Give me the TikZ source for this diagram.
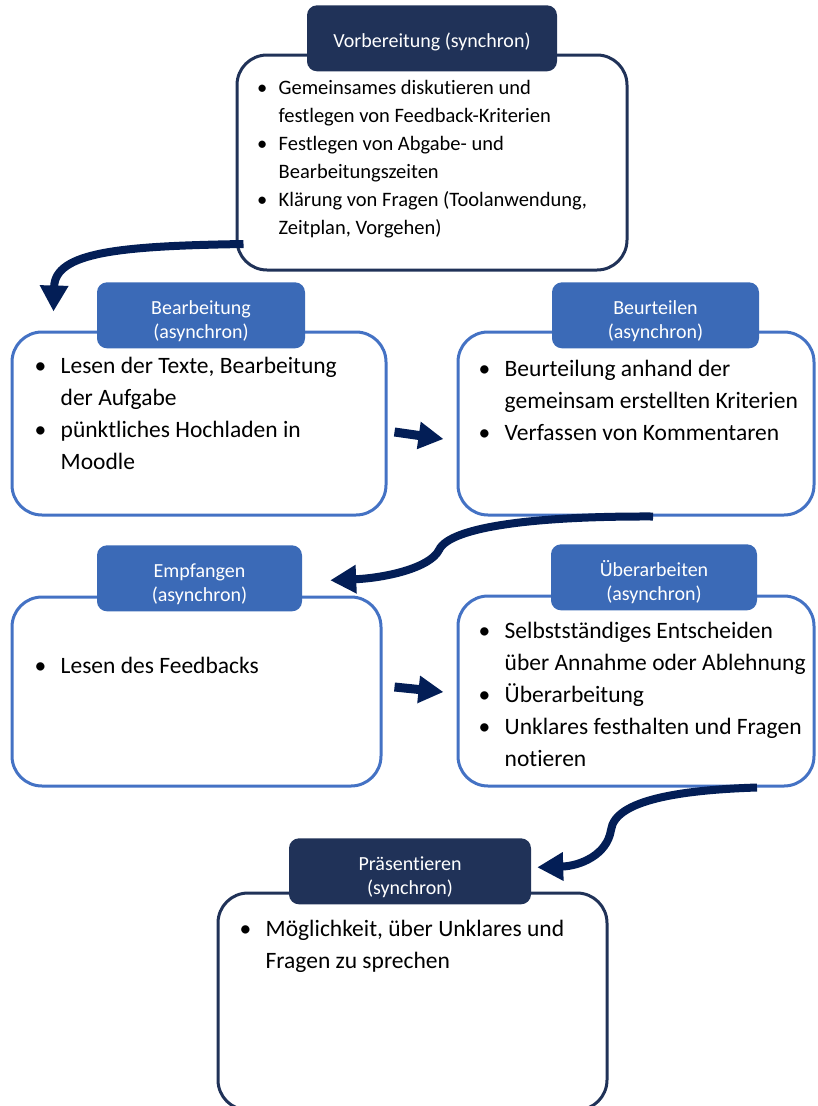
\documentclass[tikz,border=0pt]{standalone}
\usepackage{fontspec}
\setmainfont{Carlito}[Ligatures=CommonOff]
\usetikzlibrary{positioning,arrows.meta}
\definecolor{vnavy}{RGB}{32,50,88}
\definecolor{vblue}{RGB}{68,114,196}
\definecolor{vhead}{RGB}{59,106,183}
\definecolor{varrow}{RGB}{3,30,86}
\tikzset{
	box/.style={draw, line width=3pt, rounded corners=30pt, fill=white},
	navybox/.style={box, draw=vnavy},
	bluebox/.style={box, draw=vblue},
	head/.style={rounded corners=10pt, minimum height=66pt, text=white, align=center, inner sep=0pt, font=\fontsize{20}{24}\selectfont},
	navyhead/.style={head, fill=vnavy},
	bluehead/.style={head, fill=vhead},
	items/.style={inner sep=0pt, align=left, font=\fontsize{23.5}{32}\selectfont},
	flow/.style={draw=varrow, line width=8pt, -{Triangle[length=26pt,width=27pt]}},
	push/.style={draw=varrow, line width=9pt, -{Triangle[length=25pt,width=26pt]}},
}
\newcommand\vpunkt[1]{\makebox[#1][l]{\textbullet}}
\newcommand\veinzug[1]{\hspace*{#1}}
\newcommand\vstrut[1]{\rule{0pt}{#1}}

\begin{document}
\begin{tikzpicture}[x=1pt,y=-1pt]
	\useasboundingbox (0,0) rectangle (817,1106);
	\node[navybox, minimum width=390pt, minimum height=215pt] (vorb) at (432,162.5) {};
	\node[bluebox, minimum width=374pt, minimum height=183pt] (bearb) at (199,423.5) {};
	\node[bluebox, minimum width=356pt, minimum height=183pt] (beurt) at (636,423.5) {};
	\node[bluebox, minimum width=369pt, minimum height=189pt] (empf) at (196.5,691.5) {};
	\node[bluebox, minimum width=356pt, minimum height=190pt] (ueber) at (636,691) {};
	\node[navybox, minimum width=389pt, minimum height=217pt] (praes) at (412.5,1001.5) {};
	\node[navyhead, minimum width=250pt, above=-18pt of vorb.north] (vorb-h) {\vstrut{21pt}Vorbereitung (synchron)};
	\node[bluehead, minimum width=208pt, above=-18pt of bearb.north, xshift=2pt] (bearb-h) {\vstrut{26pt}Bearbeitung\\(asynchron)};
	\node[bluehead, minimum width=207pt, above=-18pt of beurt.north, xshift=19.5pt] (beurt-h) {\vstrut{26pt}Beurteilen\\(asynchron)};
	\node[bluehead, minimum width=205pt, above=-16pt of empf.north, xshift=3pt] (empf-h) {\vstrut{26pt}Empfangen\\(asynchron)};
	\node[bluehead, minimum width=206pt, above=-16pt of ueber.north, xshift=18pt] (ueber-h) {\vstrut{26pt}Überarbeiten\\(asynchron)};
	\node[navyhead, minimum width=242pt, above=-13pt of praes.north, xshift=-2.5pt] (praes-h) {\vstrut{26pt}Präsentieren\\(synchron)};
	\node[items, font=\fontsize{20.5}{28}\selectfont, below right=26.5pt and 21.5pt of vorb.north west] (vorb-t) {\vpunkt{21.5pt}Gemeinsames diskutieren und\\\veinzug{21.5pt}festlegen von Feedback-Kriterien\\\vpunkt{21.5pt}Festlegen von Abgabe- und\\\veinzug{21.5pt}Bearbeitungszeiten\\\vpunkt{21.5pt}Klärung von Fragen (Toolanwendung,\\\veinzug{21.5pt}Zeitplan, Vorgehen)};
	\node[items, below right=26.5pt and 24pt of bearb.north west] (bearb-t) {\vpunkt{26pt}Lesen der Texte, Bearbeitung\\\veinzug{26pt}der Aufgabe\\\vpunkt{26pt}pünktliches Hochladen in\\\veinzug{26pt}Moodle};
	\node[items, below right=29.5pt and 22pt of beurt.north west] (beurt-t) {\vpunkt{26pt}Beurteilung anhand der\\\veinzug{26pt}gemeinsam erstellten Kriterien\\\vpunkt{26pt}Verfassen von Kommentaren};
	\node[items, below right=61.5pt and 24pt of empf.north west] (empf-t) {\vpunkt{26pt}Lesen des Feedbacks};
	\node[items, below right=27.5pt and 22pt of ueber.north west] (ueber-t) {\vpunkt{26pt}Selbstständiges Entscheiden\\\veinzug{26pt}über Annahme oder Ablehnung\\\vpunkt{26pt}Überarbeitung\\\vpunkt{26pt}Unklares festhalten und Fragen\\\veinzug{26pt}notieren};
	\node[items, below right=28.5pt and 23pt of praes.north west] (praes-t) {\vpunkt{26pt}Möglichkeit, über Unklares und\\\veinzug{26pt}Fragen zu sprechen};
	\coordinate (a1s) at ([xshift=8pt,yshift=-81.5pt]vorb.west);
	\coordinate (a1e) at ([xshift=43pt,yshift=19pt]bearb.north west);
	\coordinate (a2s) at ([xshift=17pt]beurt.south);
	\coordinate (a2e) at ([xshift=28pt,yshift=-2pt]empf-h.east);
	\coordinate (a3s) at ([xshift=121pt]ueber.south);
	\coordinate (a3e) at ([xshift=6pt,yshift=4pt]praes-h.east);
	\draw[flow] (a1s) .. controls (120,246) and (55,252) .. (a1e);
	\draw[flow] (a2s) .. controls (540,516) and (450,526) .. (439,550) .. controls (430,568) and (385,578) .. (a2e);
	\draw[flow] (a3s) .. controls (680,790) and (615,800) .. (611,830) .. controls (607,855) and (580,866) .. (a3e);
	\draw[push] ([xshift=7pt,yshift=-8.5pt]bearb.east) -- ([xshift=-13pt,yshift=-15.5pt]beurt.west);
	\draw[push] ([xshift=12pt,yshift=4.5pt]empf.east) -- ([xshift=-13pt,yshift=-1pt]ueber.west);
\end{tikzpicture}
\end{document}
